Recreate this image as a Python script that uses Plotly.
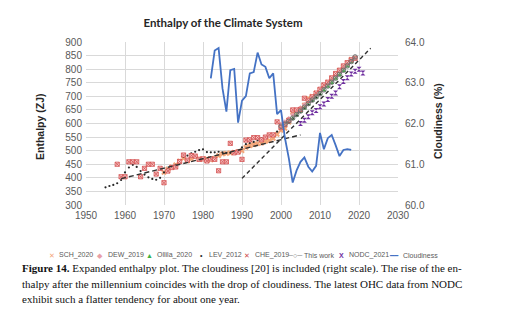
import plotly.graph_objects as go

# ---- enthalpy series (ZJ) ----
sch_years = list(range(1970, 2019))
sch_vals = [420, 432, 440, 448, 462, 472, 462, 470, 478, 470, 468, 470, 466, 472, 482,
            488, 490, 492, 494, 496, 500, 512, 518, 522, 526, 528, 534, 538, 545, 560,
            575, 582, 605, 642, 645, 650, 668, 692, 700, 712, 724, 740, 752, 766, 782,
            796, 809, 822, 836]

dew_years = list(range(2000, 2019))
dew_vals = [598, 606, 618, 632, 644, 658, 670, 684, 698, 710, 722, 736, 750, 764, 778,
            792, 806, 822, 836]

oll_years = list(range(2001, 2020))
oll_vals = [598, 606, 618, 630, 644, 656, 670, 684, 696, 708, 722, 736, 750, 765, 779,
            794, 810, 826, 842]

lev_years = list(range(1955, 2011))
lev_vals = [365, 370, 374, 380, 392, 420, 438, 448, 440, 425, 412, 402, 396, 393, 400,
            420, 430, 440, 448, 462, 478, 482, 490, 496, 502, 505, 495, 494, 494, 496,
            494, 492, 492, 498, 500, 512, 524, 528, 532, 538, 545, 550, 556, 562, 570,
            582, 594, 604, 618, 630, 644, 658, 670, 684, 696, 708]

che_years = list(range(1958, 2020))
che_vals = [450, 404, 404, 459, 459, 459, 404, 435, 450, 450, 414, 435, 382, 425, 438,
            440, 460, 484, 465, 482, 480, 468, 470, 462, 470, 468, 426, 459, 459, 527,
            492, 495, 468, 539, 540, 548, 548, 540, 550, 558, 558, 606, 585, 596, 612,
            650, 650, 652, 693, 685, 698, 712, 726, 742, 752, 768, 784, 796, 812, 824,
            834, 840]

work_years = list(range(2000, 2020))
work_vals = [590, 598, 608, 620, 633, 646, 660, 673, 686, 698, 710, 724, 738, 752, 767,
             781, 796, 812, 828, 845]

nodc_years = list(range(2005, 2022))
nodc_vals = [600, 612, 625, 640, 648, 662, 672, 688, 700, 712, 735, 755, 768, 782, 792,
             800, 786]

# ---- linear trends (ZJ) ----
trend_a_years = [1959, 2005]
trend_a_vals = [397, 558]
trend_b_years = [1990, 2023]
trend_b_vals = [398, 877]

# ---- cloudiness (%) ----
cloud_years = list(range(1982, 2019))
cloud_vals = [63.11, 63.79, 63.85, 62.86, 62.29, 63.31, 63.34, 62.02, 62.56, 62.67,
              63.23, 63.26, 63.74, 63.45, 63.39, 63.11, 63.23, 62.23, 62.33, 61.65,
              61.15, 60.55, 60.85, 61.06, 61.17, 60.94, 60.82, 60.96, 61.77, 61.37,
              61.64, 61.72, 61.47, 61.20, 61.35, 61.37, 61.35]

fig = go.Figure()

fig.add_trace(go.Scatter(x=sch_years, y=sch_vals, mode="markers", name="SCH_2020",
                         marker=dict(symbol="x", size=5, color="#F4A77A",
                                     line=dict(width=0))))
fig.add_trace(go.Scatter(x=dew_years, y=dew_vals, mode="markers", name="DEW_2019",
                         marker=dict(symbol="diamond", size=4, color="#E8A0A8")))
fig.add_trace(go.Scatter(x=oll_years, y=oll_vals, mode="markers", name="Ollila_2020",
                         marker=dict(symbol="triangle-up", size=4.5, color="#3CB043")))
fig.add_trace(go.Scatter(x=lev_years, y=lev_vals, mode="markers", name="LEV_2012",
                         marker=dict(symbol="circle", size=2.2, color="#262626")))
fig.add_trace(go.Scatter(x=che_years, y=che_vals, mode="markers", name="CHE_2019",
                         marker=dict(symbol="square-x", size=4.2, color="#F6CACA",
                                     line=dict(color="#D45050", width=0.8))))
fig.add_trace(go.Scatter(x=work_years, y=work_vals, mode="lines+markers", name="This work",
                         line=dict(color="#808080", width=1.1),
                         marker=dict(symbol="circle-open", size=4.5, color="#707070")))
fig.add_trace(go.Scatter(x=nodc_years, y=nodc_vals, mode="markers", name="NODC_2021",
                         marker=dict(symbol="hourglass", size=5, color="#7030A0")))
fig.add_trace(go.Scatter(x=trend_a_years, y=trend_a_vals, mode="lines", showlegend=False,
                         line=dict(color="#303030", width=1.4, dash="5px,3px")))
fig.add_trace(go.Scatter(x=trend_b_years, y=trend_b_vals, mode="lines", showlegend=False,
                         line=dict(color="#303030", width=1.4, dash="4px,3px")))
fig.add_trace(go.Scatter(x=cloud_years, y=cloud_vals, mode="lines", name="Cloudiness",
                         yaxis="y2", line=dict(color="#4472C4", width=1.8)))

tick_font = dict(family="Liberation Sans, Arial, sans-serif", size=10, color="#595959")
grid = "#D9D9D9"

fig.update_layout(
    width=521, height=326,
    margin=dict(l=86, r=123, t=42, b=121),
    paper_bgcolor="white", plot_bgcolor="white",
    showlegend=False,
    title=dict(text="<b>Enthalpy of the Climate System</b>", xref="container",
               x=0.428, xanchor="center", y=0.93, yanchor="middle",
               font=dict(family="Lato, Liberation Sans, sans-serif", size=11.5,
                         color="#262626")),
    xaxis=dict(range=[1950, 2030], dtick=10, tick0=1950, showgrid=True, gridcolor=grid,
               gridwidth=1, zeroline=False, showline=False, tickfont=tick_font,
               ticklabelstandoff=3),
    yaxis=dict(range=[300, 900], dtick=50, tick0=300, showgrid=True, gridcolor=grid,
               gridwidth=1, zeroline=False, showline=False, tickfont=tick_font,
               ticklabelstandoff=3),
    yaxis2=dict(range=[60, 64], dtick=1, tick0=60, tickformat=".1f", overlaying="y",
                side="right", showgrid=False, zeroline=False, showline=False,
                tickfont=tick_font, ticklabelstandoff=6),
)

W, L, T, H = 312.0, 86.0, 42.0, 163.0


def px(xp):
    return (xp - L) / W


def py(yp):
    return (T + H - yp) / H


annots = []
# axis titles
annots.append(dict(text="<b>Enthalpy (ZJ)</b>", x=px(40), y=py(127), xref="paper",
                   yref="paper", textangle=-90, showarrow=False, xanchor="center",
                   yanchor="middle",
                   font=dict(family="Liberation Sans, Arial", size=10.5, color="#262626")))
annots.append(dict(text="<b>Cloudiness (%)</b>", x=px(438), y=py(121), xref="paper",
                   yref="paper", textangle=-90, showarrow=False, xanchor="center",
                   yanchor="middle",
                   font=dict(family="Liberation Sans, Arial", size=10.5, color="#262626")))

# legend row: (key centre, key text, label start, label)
legend_items = [
    (52, "<span style='color:#F4A77A'>✕</span>", 57, "SCH_2020"),
    (100, "<span style='color:#E8A0A8'>◆</span>", 106, "DEW_2019"),
    (149, "<span style='color:#3CB043'>▲</span>", 155, "Ollila_2020"),
    (201, "<span style='color:#262626'>•</span>", 207, "LEV_2012"),
    (247, "<span style='color:#D04848'>✕</span>", 253, "CHE_2019"),
    (294.5, "<span style='color:#808080'>─○─</span>", 302, "This work"),
    (341, "<span style='color:#7030A0'><b>X</b></span>", 347, "NODC_2021"),
    (393.5, "<span style='color:#4472C4'>━━</span>", 401, "Cloudiness"),
]
leg_font = dict(family="Liberation Sans, Arial", size=7, color="#595959")
for kx, sym, tx, label in legend_items:
    annots.append(dict(text=sym, x=px(kx), y=py(255), xref="paper", yref="paper",
                       showarrow=False, xanchor="center", yanchor="middle", font=leg_font))
    annots.append(dict(text=label, x=px(tx), y=py(255), xref="paper", yref="paper",
                       showarrow=False, xanchor="left", yanchor="middle", font=leg_font))

# caption
cap_font = dict(family="Liberation Serif, Times New Roman, serif", size=11, color="#111111")
caption = [
    (268, "<b>Figure 14.</b> Expanded enthalpy plot. The cloudiness [20] is included "
          "(right scale). The rise of the en-"),
    (283.5, "thalpy after the millennium coincides with the drop of cloudiness. "
            "The latest OHC data from NODC"),
    (298.5, "exhibit such a flatter tendency for about one year."),
]
for yp, line in caption:
    annots.append(dict(text=line, x=px(20), y=py(yp), xref="paper", yref="paper",
                       showarrow=False, xanchor="left", yanchor="middle", font=cap_font))

fig.update_layout(annotations=annots)

fig.write_html("out.html")
